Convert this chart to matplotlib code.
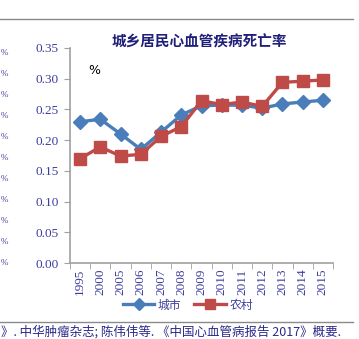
import matplotlib
matplotlib.use("Agg")
import matplotlib.pyplot as plt
from matplotlib.lines import Line2D
import numpy as np

years = ["1995", "2000", "2005", "2006", "2007", "2008", "2009", "2010",
         "2011", "2012", "2013", "2014", "2015"]
urban = [0.230, 0.234, 0.210, 0.185, 0.213, 0.241, 0.256, 0.257,
         0.257, 0.252, 0.259, 0.262, 0.265]
rural = [0.170, 0.189, 0.174, 0.177, 0.206, 0.222, 0.264, 0.258,
         0.262, 0.255, 0.294, 0.296, 0.298]
yticks = [0.00, 0.05, 0.10, 0.15, 0.20, 0.25, 0.30, 0.35]
series_names = ["城市", "农村"]
title = "城乡居民心血管疾病死亡率"
footnote = "》. 中华肿瘤杂志; 陈伟伟等. 《中国心血管病报告 2017》概要."

W, H = 359, 339
fig = plt.figure(figsize=(W / 100, H / 100), dpi=100)
fig.patch.set_facecolor("white")

tick_color = "#3d3d9e"
blue = "#4a7ebb"
red = "#be4b48"
cjk = ["Noto Sans CJK SC", "DejaVu Sans"]
serif = ["Liberation Serif", "DejaVu Serif"]

ax = fig.add_axes([70 / W, 1 - 263 / H, 263 / W, (263 - 48) / H])
x = np.arange(len(years))
ax.plot(x, urban, color=blue, lw=2.4, marker="D", ms=7, mec=blue, mfc=blue, zorder=3)
ax.plot(x, rural, color=red, lw=2.4, marker="s", ms=8.5, mec=red, mfc=red, zorder=4)

ax.set_xlim(-0.5, len(years) - 0.5)
ax.set_ylim(0, 0.35)
ax.set_yticks(yticks)
ax.set_yticklabels([f"{v:.2f}" for v in yticks], fontfamily=serif, fontsize=9.5, color=tick_color)
ax.set_xticks(x)
ax.set_xticklabels(years, rotation=90, fontfamily=serif, fontsize=9.5, color=tick_color)
ax.set_xticks(np.arange(-0.5, len(years)), minor=True)
ax.tick_params(axis="x", which="major", length=0, pad=4)
ax.tick_params(axis="x", which="minor", length=4, color="#a0a0a0", direction="out")
ax.tick_params(axis="y", length=4, color="#a0a0a0", direction="out", pad=4)
for s in ["top", "right"]:
    ax.spines[s].set_visible(False)
for s in ["left", "bottom"]:
    ax.spines[s].set_color("#a0a0a0")
    ax.spines[s].set_linewidth(1.2)

fig.text(199 / W, 1 - 42 / H, title, ha="center", va="center", fontsize=10.5,
         fontweight="bold", color="#1f1f7a", family=cjk)
fig.text(94 / W, 1 - 70 / H, "%", ha="center", va="center", fontsize=9, color="black")

# legend
handles = [Line2D([], [], color=blue, lw=2.4, marker="D", ms=6),
           Line2D([], [], color=red, lw=2.4, marker="s", ms=7)]
fig.legend(handles, series_names, loc="center", bbox_to_anchor=(188 / W, 1 - 305 / H),
           ncol=2, frameon=False, prop={"family": cjk, "size": 8.5},
           labelcolor=tick_color, handlelength=2.7, columnspacing=1.1, handletextpad=0.3)

# decorative page lines
fig.add_artist(Line2D([0, 353 / W], [1 - 19 / H, 1 - 19 / H], color="#8a8a8a", lw=1.0))
fig.add_artist(Line2D([0, 353 / W], [1 - 322 / H, 1 - 322 / H], color="#8a8a8a", lw=1.0))

# labels of neighbouring chart at left edge
for i in range(11):
    fig.text(0.5 / W, 1 - (53 + i * 21) / H, "%", ha="left", va="center",
             fontsize=6.5, color=tick_color, family=serif)

fig.text(1 / W, 1 - 332 / H, footnote, ha="left", va="center", fontsize=9,
         color="#2a2a8a", style="italic", family=cjk)

fig.savefig("out.png", dpi=100)
